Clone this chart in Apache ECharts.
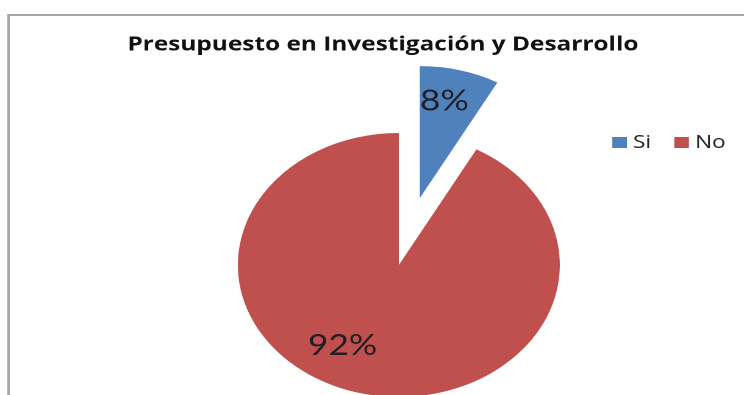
<!DOCTYPE html>
<html>
<head>
<meta charset="utf-8">
<script src="https://cdn.jsdelivr.net/npm/echarts@6/dist/echarts.min.js"></script>
<style>
  html, body { margin: 0; padding: 0; background: #fff; overflow: hidden; }
  #wrap { width: 744px; height: 395px; overflow: hidden; }
  /* the chart is laid out narrower and widened horizontally, so the pie reads as an ellipse */
  #chart { width: 610px; height: 395px; transform-origin: 0 0; transform: scaleX(1.2197); }
</style>
</head>
<body>
<div id="wrap"><div id="chart"></div></div>
<script>
const titleText = 'Presupuesto en Investigación y Desarrollo';
const categories = ['Si', 'No'];
const shares = [8, 92];
const sliceColors = ['#4f81bd', '#c0504d'];

const chart = echarts.init(document.getElementById('chart'), null, { renderer: 'canvas', devicePixelRatio: 2 });

const pieData = categories.map((name, i) => ({
  name: name,
  value: shares[i],
  selected: i === 0,
  itemStyle: { color: sliceColors[i] }
}));

// nudges that move each percentage away from the default mid-radius spot
const labelShift = [[3, -30], [-29, 14]];

chart.setOption({
  animation: false,
  title: {
    text: titleText,
    left: 314,
    textAlign: 'center',
    top: 35,
    padding: 0,
    textStyle: { fontFamily: 'Open Sans', fontWeight: 'bold', fontSize: 20, color: '#111' }
  },
  legend: {
    data: categories,
    left: 502,
    top: 133,
    padding: 0,
    itemWidth: 12,
    itemHeight: 11,
    itemGap: 19,
    icon: 'rect',
    selectedMode: false,
    textStyle: { fontFamily: 'Open Sans', fontSize: 18.5, color: '#222' }
  },
  graphic: [{
    type: 'rect',
    shape: { x: 7, y: 15, width: 700, height: 500 },
    style: { fill: 'none', stroke: '#a6a6a6', lineWidth: 2 },
    silent: true
  }],
  series: [{
    type: 'pie',
    center: [327, 265],
    radius: 132,
    startAngle: 90,
    clockwise: true,
    selectedMode: 'single',
    selectedOffset: 69,
    avoidLabelOverlap: false,
    label: {
      show: true,
      position: 'inside',
      formatter: p => p.value + '%',
      fontFamily: 'Lato',
      fontSize: 29,
      color: '#1e1e24'
    },
    labelLine: { show: false },
    labelLayout: p => ({ dx: labelShift[p.dataIndex][0], dy: labelShift[p.dataIndex][1] }),
    emphasis: { disabled: true },
    data: pieData
  }]
});
</script>
</body>
</html>
